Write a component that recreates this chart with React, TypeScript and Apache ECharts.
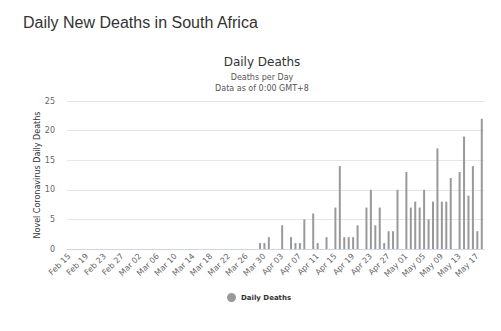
import React, { useEffect, useRef } from "react";
import * as echarts from "echarts";

const startDate = "2020-02-15";
const zeroDays = 43; // Feb 15 .. Mar 28
const deathsFromMar29 = [
  1, 1, 2, 0, 0, 4, 0, 2, 1, 1, 5, 0, 6, 1, 0, 2, 0, 7, 14, 2, 2, 2, 4, 0, 7, 10,
  4, 7, 1, 3, 3, 10, 0, 13, 7, 8, 7, 10, 5, 8, 17, 8, 8, 12, 0, 13, 19, 9, 14, 3, 22,
];
const yTicks = [0, 5, 10, 15, 20, 25];
const monthNames = ["Jan", "Feb", "Mar", "Apr", "May", "Jun"];

function buildCategories(n: number): string[] {
  const out: string[] = [];
  const d = new Date(startDate + "T00:00:00Z");
  for (let i = 0; i < n; i++) {
    const day = d.getUTCDate();
    out.push(monthNames[d.getUTCMonth()] + " " + (day < 10 ? "0" + day : String(day)));
    d.setUTCDate(d.getUTCDate() + 1);
  }
  return out;
}

const values: number[] = [...new Array(zeroDays).fill(0), ...deathsFromMar29];
const categories = buildCategories(values.length);

export default function App() {
  const ref = useRef<HTMLDivElement>(null);
  useEffect(() => {
    if (!ref.current) return;
    const chart = echarts.init(ref.current, undefined, { renderer: "svg" });
    chart.setOption({
      animation: false,
      backgroundColor: "#ffffff",
      title: [
        {
          text: "Daily New Deaths in South Africa",
          left: 18,
          top: 9,
          textStyle: {
            fontFamily: "Liberation Sans, Arial, sans-serif",
            fontSize: 16,
            fontWeight: "normal",
            color: "#333333",
          },
        },
        {
          text: "Daily Deaths",
          subtext: "Deaths per Day\nData as of 0:00 GMT+8",
          left: 257,
          textAlign: "center",
          top: 51,
          itemGap: 4,
          textStyle: {
            fontFamily: "DejaVu Sans, sans-serif",
            fontSize: 12,
            fontWeight: "normal",
            color: "#333333",
          },
          subtextStyle: {
            fontFamily: "DejaVu Sans, sans-serif",
            fontSize: 8,
            lineHeight: 11,
            color: "#555555",
          },
        },
      ],
      legend: {
        bottom: 24,
        left: 222,
        icon: "circle",
        itemWidth: 9,
        itemHeight: 9,
        itemGap: 6,
        textStyle: {
          fontFamily: "DejaVu Sans, sans-serif",
          fontSize: 7,
          fontWeight: "bold",
          color: "#333333",
        },
        data: ["Daily Deaths"],
      },
      grid: { left: 67, right: 17, top: 101, bottom: 82 },
      xAxis: {
        type: "category",
        data: categories,
        boundaryGap: true,
        axisLine: { lineStyle: { color: "#ccd6eb" } },
        axisTick: { show: false },
        axisLabel: {
          interval: 3,
          rotate: 45,
          fontSize: 8,
          color: "#666666",
          margin: 6,
          fontFamily: "DejaVu Sans, sans-serif",
        },
      },
      yAxis: {
        type: "value",
        min: yTicks[0],
        max: yTicks[yTicks.length - 1],
        interval: 5,
        name: "Novel Coronavirus Daily Deaths",
        nameLocation: "middle",
        nameGap: 26,
        nameMoveOverlap: false,
        nameTextStyle: {
          fontFamily: "DejaVu Sans, sans-serif",
          fontSize: 8,
          color: "#333333",
        },
        axisLine: { show: false },
        axisTick: { show: false },
        axisLabel: {
          fontSize: 8,
          color: "#666666",
          margin: 12,
          fontFamily: "DejaVu Sans, sans-serif",
        },
        splitLine: { lineStyle: { color: "#e6e6e6" } },
      },
      series: [
        {
          name: "Daily Deaths",
          type: "bar",
          data: values,
          barWidth: 2,
          itemStyle: { color: "#999999" },
        },
      ],
    });
    return () => chart.dispose();
  }, []);
  return <div ref={ref} style={{ width: 501, height: 331, position: "absolute", left: 0, top: 0 }} />;
}
